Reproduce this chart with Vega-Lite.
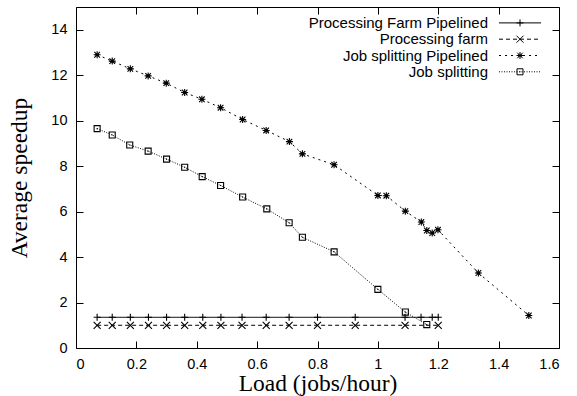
{
  "$schema": "https://vega.github.io/schema/vega-lite/v6.json",
  "width": 483,
  "height": 341,
  "autosize": {"type": "none"},
  "padding": {"left": 76, "top": 7, "right": 18, "bottom": 48},
  "background": "white",
  "config": {
    "view": {"stroke": "black", "strokeWidth": 1},
    "axis": {"grid": false, "domain": false, "tickColor": "black", "tickSize": -7, "tickWidth": 1,
             "labelFont": "Liberation Sans", "labelFontSize": 14.5, "labelColor": "black",
             "titleFont": "Liberation Serif", "titleFontSize": 23.5, "titleFontWeight": "normal", "titleColor": "black"},
    "legend": {"orient": "none", "legendX": 224, "legendY": 8.4, "padding": 0, "title": null,
               "rowPadding": 0.3, "labelAlign": "right", "labelOffset": -39.5, "symbolOffset": 212.5,
               "symbolSize": 196,
               "labelFont": "Liberation Sans", "labelFontSize": 15, "labelColor": "black", "labelLimit": 400,
               "labelBaseline": "middle", "symbolStrokeColor": "black", "symbolStrokeWidth": 1}
  },
  "data": {"values": [
    {"series": "Processing Farm Pipelined", "load": 0.07, "speedup": 1.35},
    {"series": "Processing Farm Pipelined", "load": 0.12, "speedup": 1.35},
    {"series": "Processing Farm Pipelined", "load": 0.18, "speedup": 1.35},
    {"series": "Processing Farm Pipelined", "load": 0.24, "speedup": 1.35},
    {"series": "Processing Farm Pipelined", "load": 0.30, "speedup": 1.35},
    {"series": "Processing Farm Pipelined", "load": 0.36, "speedup": 1.35},
    {"series": "Processing Farm Pipelined", "load": 0.42, "speedup": 1.35},
    {"series": "Processing Farm Pipelined", "load": 0.48, "speedup": 1.35},
    {"series": "Processing Farm Pipelined", "load": 0.55, "speedup": 1.35},
    {"series": "Processing Farm Pipelined", "load": 0.63, "speedup": 1.35},
    {"series": "Processing Farm Pipelined", "load": 0.706, "speedup": 1.35},
    {"series": "Processing Farm Pipelined", "load": 0.80, "speedup": 1.35},
    {"series": "Processing Farm Pipelined", "load": 0.925, "speedup": 1.35},
    {"series": "Processing Farm Pipelined", "load": 1.09, "speedup": 1.35},
    {"series": "Processing Farm Pipelined", "load": 1.143, "speedup": 1.35},
    {"series": "Processing Farm Pipelined", "load": 1.18, "speedup": 1.35},
    {"series": "Processing Farm Pipelined", "load": 1.20, "speedup": 1.35},
    {"series": "Processing farm", "load": 0.07, "speedup": 1.0},
    {"series": "Processing farm", "load": 0.12, "speedup": 1.0},
    {"series": "Processing farm", "load": 0.18, "speedup": 1.0},
    {"series": "Processing farm", "load": 0.24, "speedup": 1.0},
    {"series": "Processing farm", "load": 0.30, "speedup": 1.0},
    {"series": "Processing farm", "load": 0.36, "speedup": 1.0},
    {"series": "Processing farm", "load": 0.42, "speedup": 1.0},
    {"series": "Processing farm", "load": 0.48, "speedup": 1.0},
    {"series": "Processing farm", "load": 0.55, "speedup": 1.0},
    {"series": "Processing farm", "load": 0.63, "speedup": 1.0},
    {"series": "Processing farm", "load": 0.706, "speedup": 1.0},
    {"series": "Processing farm", "load": 0.80, "speedup": 1.0},
    {"series": "Processing farm", "load": 0.925, "speedup": 1.0},
    {"series": "Processing farm", "load": 1.09, "speedup": 1.0},
    {"series": "Processing farm", "load": 1.20, "speedup": 1.0},
    {"series": "Job splitting Pipelined", "load": 0.07, "speedup": 12.9},
    {"series": "Job splitting Pipelined", "load": 0.12, "speedup": 12.62},
    {"series": "Job splitting Pipelined", "load": 0.18, "speedup": 12.28},
    {"series": "Job splitting Pipelined", "load": 0.239, "speedup": 11.97},
    {"series": "Job splitting Pipelined", "load": 0.299, "speedup": 11.65},
    {"series": "Job splitting Pipelined", "load": 0.36, "speedup": 11.24},
    {"series": "Job splitting Pipelined", "load": 0.417, "speedup": 10.94},
    {"series": "Job splitting Pipelined", "load": 0.479, "speedup": 10.57},
    {"series": "Job splitting Pipelined", "load": 0.552, "speedup": 10.05},
    {"series": "Job splitting Pipelined", "load": 0.63, "speedup": 9.57},
    {"series": "Job splitting Pipelined", "load": 0.707, "speedup": 9.08},
    {"series": "Job splitting Pipelined", "load": 0.75, "speedup": 8.54},
    {"series": "Job splitting Pipelined", "load": 0.855, "speedup": 8.06},
    {"series": "Job splitting Pipelined", "load": 1.0, "speedup": 6.71},
    {"series": "Job splitting Pipelined", "load": 1.028, "speedup": 6.70},
    {"series": "Job splitting Pipelined", "load": 1.091, "speedup": 6.02},
    {"series": "Job splitting Pipelined", "load": 1.144, "speedup": 5.54},
    {"series": "Job splitting Pipelined", "load": 1.162, "speedup": 5.17},
    {"series": "Job splitting Pipelined", "load": 1.18, "speedup": 5.06},
    {"series": "Job splitting Pipelined", "load": 1.199, "speedup": 5.20},
    {"series": "Job splitting Pipelined", "load": 1.333, "speedup": 3.30},
    {"series": "Job splitting Pipelined", "load": 1.5, "speedup": 1.43},
    {"series": "Job splitting", "load": 0.07, "speedup": 9.65},
    {"series": "Job splitting", "load": 0.12, "speedup": 9.37},
    {"series": "Job splitting", "load": 0.178, "speedup": 8.93},
    {"series": "Job splitting", "load": 0.239, "speedup": 8.66},
    {"series": "Job splitting", "load": 0.3, "speedup": 8.31},
    {"series": "Job splitting", "load": 0.36, "speedup": 7.95},
    {"series": "Job splitting", "load": 0.418, "speedup": 7.54},
    {"series": "Job splitting", "load": 0.479, "speedup": 7.15},
    {"series": "Job splitting", "load": 0.552, "speedup": 6.64},
    {"series": "Job splitting", "load": 0.632, "speedup": 6.12},
    {"series": "Job splitting", "load": 0.706, "speedup": 5.51},
    {"series": "Job splitting", "load": 0.75, "speedup": 4.87},
    {"series": "Job splitting", "load": 0.855, "speedup": 4.23},
    {"series": "Job splitting", "load": 1.0, "speedup": 2.58},
    {"series": "Job splitting", "load": 1.091, "speedup": 1.58},
    {"series": "Job splitting", "load": 1.162, "speedup": 1.03}
  ]},
  "resolve": {"axis": {"x": "independent", "y": "independent"}},
  "layer": [
    {
      "mark": {"type": "line", "color": "black", "strokeWidth": 1},
      "encoding": {
        "x": {"field": "load", "type": "quantitative", "scale": {"domain": [0, 1.6], "nice": false, "zero": false},
              "axis": {"title": "Load (jobs/hour)", "values": [0, 0.2, 0.4, 0.6, 0.8, 1, 1.2, 1.4, 1.6], "format": "~g", "labelPadding": 16, "titlePadding": 1, "orient": "bottom"}},
        "y": {"field": "speedup", "type": "quantitative", "scale": {"domain": [0, 15], "nice": false},
              "axis": {"title": "Average speedup", "values": [0, 2, 4, 6, 8, 10, 12, 14], "format": "~g", "labelPadding": 16, "titlePadding": 19, "orient": "left"}},
        "strokeDash": {"field": "series", "type": "nominal",
          "scale": {"domain": ["Processing Farm Pipelined", "Processing farm", "Job splitting Pipelined", "Job splitting"],
                    "range": [[1, 0], [4, 3], [2, 4], [1, 1.5]]},
          "legend": {"symbolType": "M-3,0H3"}}
      }
    },
    {
      "mark": {"type": "point", "filled": false, "color": "black", "strokeWidth": 1.1, "size": 196, "opacity": 1},
      "encoding": {
        "x": {"field": "load", "type": "quantitative",
              "axis": {"orient": "top", "labels": false, "title": null, "values": [0, 0.2, 0.4, 0.6, 0.8, 1, 1.2, 1.4, 1.6]}},
        "y": {"field": "speedup", "type": "quantitative",
              "axis": {"orient": "right", "labels": false, "title": null, "values": [0, 2, 4, 6, 8, 10, 12, 14]}},
        "shape": {"field": "series", "type": "nominal",
          "scale": {"domain": ["Job splitting", "Job splitting Pipelined", "Processing farm", "Processing Farm Pipelined"],
                    "range": ["M-0.43,-0.43H0.43V0.43H-0.43ZM-0.08,0H0.08",
                              "M-0.5,0H0.5M0,-0.5V0.5M-0.4,-0.4L0.4,0.4M-0.4,0.4L0.4,-0.4M-0.25,-0.15L0.25,0.15M-0.25,0.15L0.25,-0.15",
                              "M-0.5,-0.5L0.5,0.5M-0.5,0.5L0.5,-0.5",
                              "M-0.5,0H0.5M0,-0.5V0.5"]},
          "legend": {"values": ["Processing Farm Pipelined", "Processing farm", "Job splitting Pipelined", "Job splitting"],
                     "labelOpacity": 0, "symbolFillColor": "white"}}
      }
    }
  ]
}
